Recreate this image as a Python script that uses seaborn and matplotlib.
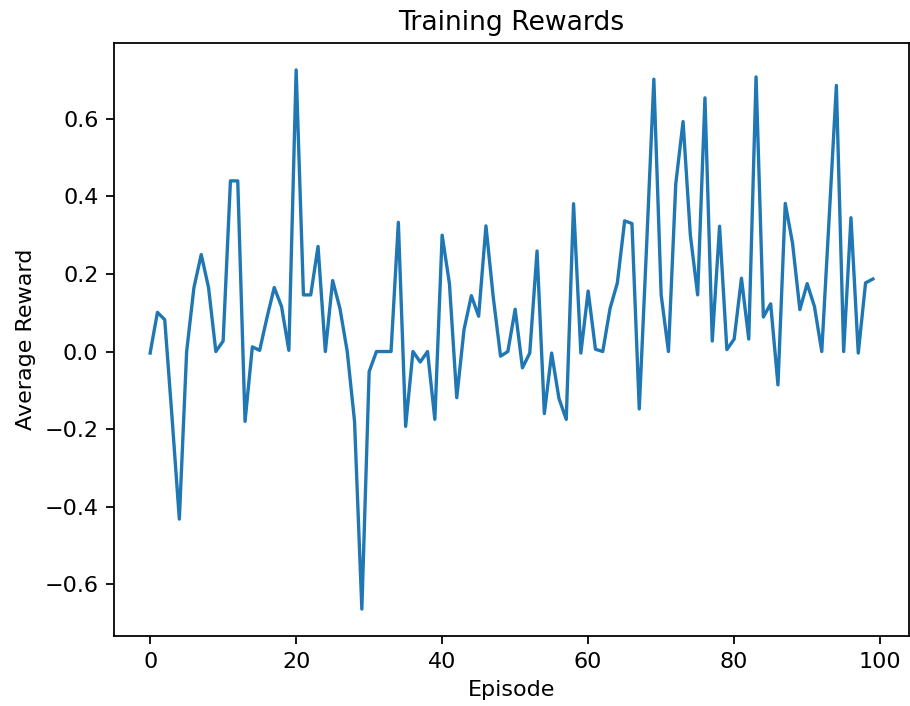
import matplotlib
matplotlib.use("Agg")
import matplotlib.pyplot as plt
import numpy as np
import pandas as pd
import seaborn as sns

# Average reward per training episode
episodes = list(range(100))
avg_reward = [
    -0.004, 0.101, 0.082, -0.17, -0.432, 0.0, 0.165, 0.25, 0.165, 0.0,
    0.027, 0.44, 0.44, -0.18, 0.012, 0.003, 0.087, 0.165, 0.116, 0.003,
    0.726, 0.146, 0.146, 0.271, 0.0, 0.183, 0.111, 0.0, -0.18, -0.664,
    -0.052, 0.0, 0.0, 0.0, 0.333, -0.193, 0.0, -0.027, 0.0, -0.175,
    0.30, 0.175, -0.119, 0.057, 0.144, 0.091, 0.324, 0.14, -0.012, 0.0,
    0.109, -0.042, -0.004, 0.259, -0.16, -0.004, -0.121, -0.175, 0.381, -0.004,
    0.156, 0.006, 0.0, 0.111, 0.177, 0.337, 0.33, -0.148, 0.27, 0.702,
    0.146, 0.0, 0.432, 0.593, 0.30, 0.146, 0.654, 0.027, 0.323, 0.005,
    0.032, 0.189, 0.032, 0.708, 0.089, 0.123, -0.086, 0.382, 0.279, 0.108,
    0.175, 0.116, 0.0, 0.34, 0.686, 0.0, 0.345, -0.004, 0.177, 0.187,
]

df = pd.DataFrame({"Episode": episodes, "Average Reward": avg_reward})

fig = plt.figure(figsize=(910 / 160, 706 / 160), dpi=160)
ax = fig.add_axes([114 / 910, 70 / 706, 795 / 910, 593 / 706])

sns.lineplot(data=df, x="Episode", y="Average Reward", ax=ax,
             color="#1f77b4", linewidth=1.5)

ax.set_title("Training Rewards")
ax.set_xlabel("Episode")
ax.set_ylabel("Average Reward")

fig.savefig("out.png", dpi=160)
